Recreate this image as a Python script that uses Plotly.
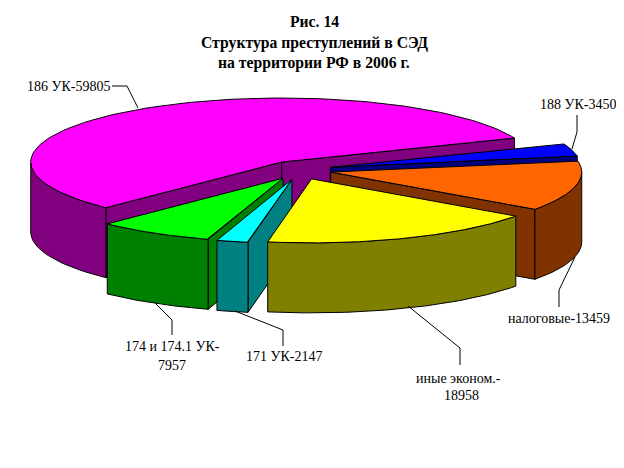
import numpy as np
import plotly.graph_objects as go

# -----------------------------
# Data
# -----------------------------
values = [3450, 13459, 18958, 2147, 7957, 59805]
top_colors = ["#0000FF", "#FF6600", "#FFFF00", "#00FFFF", "#00FF00", "#FF00FF"]
side_colors = ["#000080", "#803300", "#808000", "#008080", "#008000", "#800080"]
# back slices first, so the nearer ones cover them
draw_order = [5, 0, 1, 4, 3, 2]

title_lines = ["Рис. 14", "Структура преступлений в СЭД", "на территории РФ в 2006 г."]
title_y = [21, 43, 63]

# text, x, y of the slice captions
captions = [
    ("186 УК-59805", 68, 86),
    ("188 УК-3450", 578, 104),
    ("налоговые-13459", 559, 318),
    ("иные эконом.-", 458, 378),
    ("18958", 461, 395),
    ("174 и 174.1 УК-", 172, 346),
    ("7957", 172, 365),
    ("171 УК-2147", 284, 356),
]

leaders = [
    ([112, 127, 138], [86, 86, 108]),
    ([577, 577, 572], [115, 132, 149]),
    ([559, 559, 575], [307, 290, 257]),
    ([460, 460, 408], [365, 348, 306]),
    ([283, 283, 235], [346, 330, 311]),
    ([172, 172, 155], [335, 320, 303]),
]

# -----------------------------
# Pie geometry (in page pixels)
# -----------------------------
cx, cy = 299.5, 170
rx, ry = 251, 64
depth = 70
explode = 32
explode_k = 0.3
start_angle = 22


def add_poly(fig, xs, ys, color):
    fig.add_trace(go.Scatter(
        x=xs, y=ys, mode="lines", fill="toself", fillcolor=color,
        line=dict(color="black", width=1), hoverinfo="skip", showlegend=False,
    ))


fig = go.Figure()

sweeps = np.array(values) / sum(values) * 360
starts = start_angle - np.concatenate([[0], np.cumsum(sweeps)[:-1]])

for i in draw_order:
    a0 = starts[i]
    a1 = a0 - sweeps[i]
    mid = np.radians((a0 + a1) / 2)
    ox = cx + explode * np.cos(mid)
    oy = cy - explode * explode_k * np.sin(mid)

    theta = np.radians(np.linspace(a0, a1, 120))
    arc_x = ox + rx * np.cos(theta)
    arc_y = oy - ry * np.sin(theta)

    # cut walls that face the viewer
    if np.cos(np.radians(a0)) < 0:
        add_poly(fig,
                 [ox, arc_x[0], arc_x[0], ox, ox],
                 [oy, arc_y[0], arc_y[0] + depth, oy + depth, oy],
                 side_colors[i])
    if np.cos(np.radians(a1)) > 0:
        add_poly(fig,
                 [ox, arc_x[-1], arc_x[-1], ox, ox],
                 [oy, arc_y[-1], arc_y[-1] + depth, oy + depth, oy],
                 side_colors[i])

    # outer wall, only the front half of the ellipse
    front = np.sin(theta) <= 0
    if front.any():
        fx = arc_x[front]
        fy = arc_y[front]
        add_poly(fig,
                 list(fx) + list(fx[::-1]) + [fx[0]],
                 list(fy) + list(fy[::-1] + depth) + [fy[0]],
                 side_colors[i])

    # top face
    add_poly(fig, [ox] + list(arc_x) + [ox], [oy] + list(arc_y) + [oy], top_colors[i])

for lx, ly in leaders:
    fig.add_trace(go.Scatter(x=lx, y=ly, mode="lines", line=dict(color="black", width=1),
                             hoverinfo="skip", showlegend=False))

# -----------------------------
# Text
# -----------------------------
for line, y in zip(title_lines, title_y):
    fig.add_annotation(x=314, y=y, text="<b>" + line + "</b>", showarrow=False,
                       font=dict(family="Liberation Serif", size=15.7, color="black"))

for text, x, y in captions:
    fig.add_annotation(x=x, y=y, text=text, showarrow=False,
                       font=dict(family="Liberation Serif", size=14, color="black"))

# -----------------------------
# Layout
# the page keeps its 8px body margin, so the axes start at 8 to stay in page pixels
# -----------------------------
fig.update_xaxes(range=[8, 616], visible=False)
fig.update_yaxes(range=[460, 8], visible=False)
fig.update_layout(width=608, height=452, margin=dict(l=0, r=0, t=0, b=0),
                  paper_bgcolor="white", plot_bgcolor="white", showlegend=False)

fig.write_html("out.html")
